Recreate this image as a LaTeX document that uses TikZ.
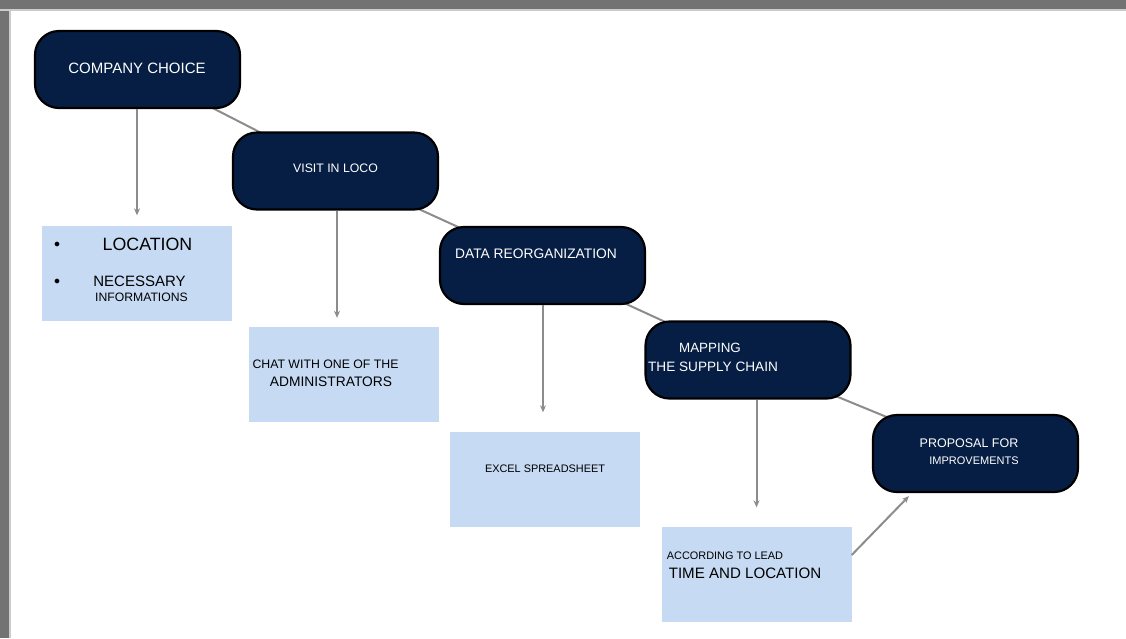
\documentclass[tikz,border=0pt]{standalone}
\usepackage{fontspec}
\setmainfont{Liberation Sans}
\usepackage{xcolor}
\usetikzlibrary{arrows.meta,positioning,calc}
\definecolor{navy}{RGB}{6,30,68}
\definecolor{paleblue}{RGB}{198,218,243}
\definecolor{linkgray}{RGB}{140,140,140}
\newcommand{\fs}[1]{\fontsize{#1}{#1}\selectfont}

\begin{document}
\begin{tikzpicture}[x=1pt,y=-1pt,>={Stealth[length=7pt,width=6pt]},
  stage/.style={draw=black,line width=2.2pt,fill=navy,rounded corners=24pt,
    minimum width=205pt,minimum height=77pt,inner sep=0pt},
  note/.style={fill=paleblue,minimum width=190pt,minimum height=95pt,inner sep=0pt},
  wtxt/.style={text=white,inner sep=0pt},
  btxt/.style={text=black,inner sep=0pt},
  link/.style={draw=linkgray,line width=2pt},
  arr/.style={link,->}]
  % frame
  \useasboundingbox (0,0) rectangle (1126,638);
  \fill[black!55] (0,0) rectangle (1126,9);
  \fill[black!55] (0,0) rectangle (9,638);
  \fill[black!20] (0,9) rectangle (1126,11);
  \fill[black!20] (9,9) rectangle (11,638);

  % links behind stages
  \coordinate (c1) at (137.5,69.5);
  \coordinate (c2) at (335.5,171);
  \coordinate (c3) at (542.5,265.5);
  \coordinate (c4) at (748,360);
  \coordinate (c5) at (975.5,453.5);
  \draw[link] (c1) -- (c2) -- (c3) -- (c4) -- (c5);

  % stages
  \node[stage] (cc) at (c1) {};
  \node[stage] (vl) at (c2) {};
  \node[stage] (dr) at (c3) {};
  \node[stage] (msc) at (c4) {};
  \node[stage] (pi) at (c5) {};

  % notes
  \node[note] (loc) at (137,273) {};
  \node[note] (chat) at (343.5,374.5) {};
  \node[note] (xls) at (544.5,479) {};
  \node[note] (lead) at (756.5,574) {};

  % texts
  \node[wtxt,font=\fs{15}] (cct) at (137,68) {COMPANY CHOICE};
  \node[wtxt,font=\fs{12.3}] (vlt) at (335.5,168) {VISIT IN LOCO};
  \node[wtxt,font=\fs{13.8}] (drt) at (536,254) {DATA REORGANIZATION};
  \node[wtxt,font=\fs{13.4}] (msta) at (710,348) {MAPPING};
  \node[wtxt,font=\fs{13.6}] (mstb) at (713,367) {THE SUPPLY CHAIN};
  \node[wtxt,font=\fs{12.5}] (pita) at (969,443) {PROPOSAL FOR};
  \node[wtxt,font=\fs{11}] (pitb) at (974,461) {IMPROVEMENTS};

  \node[btxt,font=\fs{17.8}] (loct) at (147.5,244) {LOCATION};
  \node[btxt,font=\fs{12}] (b1) at (57,245) {$\bullet$};
  \node[btxt,font=\fs{12}] (b2) at (57,282) {$\bullet$};
  \node[btxt,font=\fs{15}] (nect) at (139.5,281) {NECESSARY};
  \node[btxt,font=\fs{12.2}] (inft) at (141.5,297) {INFORMATIONS};
  \node[btxt,font=\fs{12.3}] (chta) at (325.5,364) {CHAT WITH ONE OF THE};
  \node[btxt,font=\fs{13.8}] (chtb) at (331,382) {ADMINISTRATORS};
  \node[btxt,font=\fs{10.9}] (xlst) at (545,469) {EXCEL SPREADSHEET};
  \node[btxt,font=\fs{10.9}] (lda) at (725,556) {ACCORDING TO LEAD};
  \node[btxt,font=\fs{15.1}] (ldb) at (745,573) {TIME AND LOCATION};

  % arrows
  \draw[arr,shorten >=10pt] (loc.north |- cc.south) -- (loc.north);
  \draw[arr,shorten >=9pt] (c2 |- vl.south) ++(1.5,0) -- ($(chat.north)+(-6.5,0)$);
  \draw[arr,shorten >=19pt] (xls.north |- dr.south) ++(-1.5,0) -- ($(xls.north)+(-1.5,0)$);
  \draw[arr,shorten >=19pt] (lead.north |- msc.south) -- (lead.north);
  \draw[arr] ($(lead.east)+(0,-19)$) -- ($(pi.south west)+(37,3)$);
\end{tikzpicture}
\end{document}
